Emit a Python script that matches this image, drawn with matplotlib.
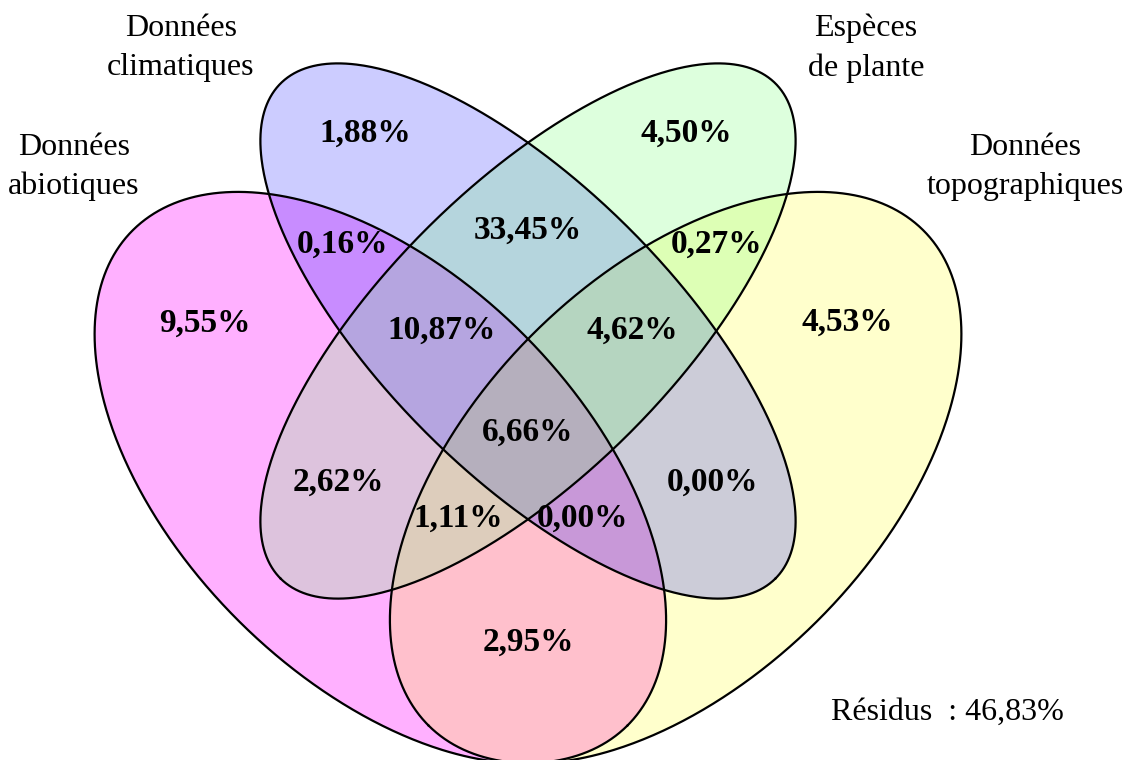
# -*- coding: utf-8 -*-

import numpy as np
import matplotlib
matplotlib.use("Agg")
import matplotlib.pyplot as plt
from matplotlib.path import Path


# noms des ensembles : abiotiques, climatiques, plante, topographiques
set_names = ["Données\nabiotiques", "Données\nclimatiques",
             "Espèces\nde plante", "Données\ntopographiques"]

# appartenance de chaque région (abio, clim, plante, topo)
region_sets = [
    (1, 0, 0, 0), (0, 1, 0, 0), (0, 0, 1, 0), (0, 0, 0, 1),
    (1, 1, 0, 0), (0, 1, 1, 0), (0, 0, 1, 1), (1, 0, 1, 0),
    (0, 1, 0, 1), (1, 0, 0, 1),
    (1, 1, 1, 0), (0, 1, 1, 1), (1, 0, 1, 1), (1, 1, 0, 1),
    (1, 1, 1, 1),
]
region_pct = ["9,55%", "1,88%", "4,50%", "4,53%",
              "0,16%", "33,45%", "0,27%", "2,62%",
              "0,00%", "2,95%",
              "10,87%", "4,62%", "1,11%", "0,00%",
              "6,66%"]
region_colors = ["#FFB0FF", "#CCCCFF", "#DDFFDD", "#FFFFCC",
                 "#C88CFF", "#B5D5DD", "#DDFFB5", "#DDC3DD",
                 "#CCCCD8", "#FFC0CC",
                 "#B5A5E0", "#B5D5C0", "#DDCDBC", "#C898D8",
                 "#B5AFBD"]
residus = "46,83%"

# mise en page (coordonnées en pixels de l'image)
W, H = 1132, 760
label_pos = [(205, 323), (365, 133), (686, 133), (847, 322),
             (343, 244), (528, 230), (717, 244), (338, 482),
             (713, 482), (528, 642),
             (442, 330), (632, 330), (458, 518), (583, 518),
             (528, 432)]
name_pos = [(74, 167), (181, 48), (866, 48), (1025, 167)]
mid_x = 528


def egg(cx, cy, a, b_in, b_out, angle_deg, n=720):
    t = np.linspace(0, 2 * np.pi, n)
    th = np.radians(angle_deg)
    d = np.array([np.cos(th), np.sin(th)])
    nrm = np.array([-np.sin(th), np.cos(th)])
    b = np.where(np.sin(t) > 0, b_out, b_in)
    u = a * np.cos(t)
    v = b * np.sin(t)
    x = cx + u * d[0] + v * nrm[0]
    y = cy + u * d[1] + v * nrm[1]
    return np.column_stack([x, y])


def mirror(pts):
    out = pts.copy()
    out[:, 0] = 2 * mid_x - out[:, 0]
    return out


shape_abio = egg(380, 478, 350, 203, 201, 45)
shape_clim = egg(mid_x, 331, 350, 144, 144, 45)
shapes = [shape_abio, shape_clim, mirror(shape_clim), mirror(shape_abio)]
paths = [Path(s) for s in shapes]

# grille de pixels pour colorier chaque région
xs = np.arange(W) + 0.5
ys = np.arange(H) + 0.5
gx, gy = np.meshgrid(xs, ys)
pts = np.column_stack([gx.ravel(), gy.ravel()])
inside = [p.contains_points(pts).reshape(H, W) for p in paths]

img = np.ones((H, W, 3))
for key, col in zip(region_sets, region_colors):
    mask = np.ones((H, W), dtype=bool)
    for k, flag in enumerate(key):
        mask &= inside[k] if flag else ~inside[k]
    img[mask] = matplotlib.colors.to_rgb(col)

fig = plt.figure(figsize=(W / 100, H / 100), dpi=100)
ax = fig.add_axes([0, 0, 1, 1])
ax.imshow(img, extent=(0, W, H, 0), interpolation="nearest")
for s in shapes:
    ax.plot(s[:, 0], s[:, 1], color="black", lw=1.6)

for txt, (x, y) in zip(region_pct, label_pos):
    ax.text(x, y, txt, ha="center", va="center", fontsize=24,
            fontweight="bold", family="Liberation Serif")

for txt, (x, y) in zip(set_names, name_pos):
    ax.text(x, y, txt, ha="center", va="center", fontsize=23,
            family="Liberation Serif", linespacing=1.45)

ax.text(947, 712, "Résidus  : " + residus, ha="center", va="center",
        fontsize=23, family="Liberation Serif")

ax.set_xlim(0, W)
ax.set_ylim(H, 0)
ax.axis("off")
fig.savefig("out.png", dpi=100)
